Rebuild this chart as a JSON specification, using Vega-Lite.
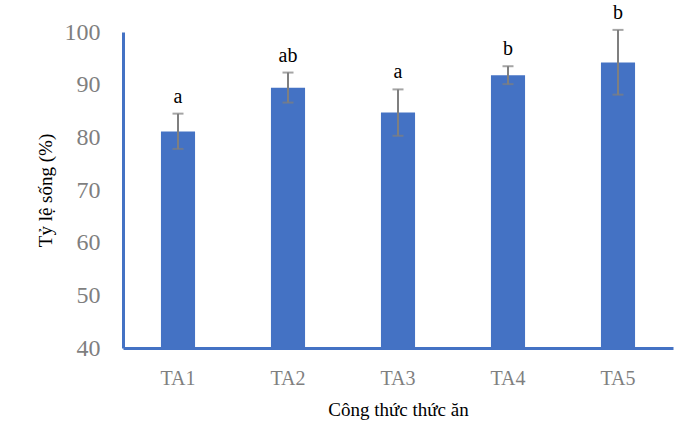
{
  "$schema": "https://vega.github.io/schema/vega-lite/v6.json",
  "autosize": "none",
  "width": 550,
  "height": 316,
  "padding": {"left": 123, "top": 32, "right": 6, "bottom": 88},
  "background": "white",
  "config": {
    "view": {"stroke": null},
    "font": "Liberation Serif",
    "axis": {"labelFont": "Liberation Serif", "titleFont": "Liberation Serif"},
    "axisY": {"labelFont": "Liberation Serif", "titleFont": "Liberation Serif"}
  },
  "data": {
    "values": [
      {"ct": "TA1", "mean": 81.1, "lower": 77.8, "upper": 84.5, "sig": "a"},
      {"ct": "TA2", "mean": 89.4, "lower": 86.6, "upper": 92.3, "sig": "ab"},
      {"ct": "TA3", "mean": 84.7, "lower": 80.3, "upper": 89.1, "sig": "a"},
      {"ct": "TA4", "mean": 91.8, "lower": 90.1, "upper": 93.5, "sig": "b"},
      {"ct": "TA5", "mean": 94.2, "lower": 88.1, "upper": 100.4, "sig": "b"}
    ]
  },
  "encoding": {
    "x": {
      "field": "ct",
      "type": "nominal",
      "sort": null,
      "scale": {"paddingInner": 0.69, "paddingOuter": 0.345},
      "axis": {
        "title": "Công thức thức ăn",
        "titleFontSize": 19,
        "titleFontWeight": "normal",
        "titleColor": "#000000",
        "titlePadding": 12,
        "labelAngle": 0,
        "labelFontSize": 20,
        "labelColor": "#7f7f7f",
        "labelPadding": 20,
        "ticks": false,
        "domainColor": "#4472C4",
        "domainWidth": 3,
        "grid": false,
        "zindex": 1
      }
    }
  },
  "layer": [
    {
      "mark": {"type": "bar", "color": "#4472C4", "clip": true},
      "encoding": {
        "y": {
          "field": "mean",
          "type": "quantitative",
          "scale": {"domain": [40, 100], "nice": false, "zero": false},
          "axis": {
            "title": "Tỷ lệ sống (%)",
            "titleFontSize": 19,
            "titleFontWeight": "normal",
            "titleColor": "#000000",
            "titlePadding": 9,
            "values": [40, 50, 60, 70, 80, 90, 100],
            "labelFontSize": 24,
            "labelColor": "#7f7f7f",
            "labelPadding": 23,
            "ticks": false,
            "grid": false,
            "domainColor": "#4472C4",
            "domainWidth": 3
          }
        }
      }
    },
    {
      "mark": {"type": "rule", "color": "#7f7f7f", "strokeWidth": 2, "clip": false},
      "encoding": {
        "y": {"field": "lower", "type": "quantitative"},
        "y2": {"field": "upper"}
      }
    },
    {
      "mark": {"type": "tick", "color": "#7f7f7f", "thickness": 2, "size": 11, "orient": "horizontal", "clip": false},
      "encoding": {
        "y": {"field": "upper", "type": "quantitative"}
      }
    },
    {
      "mark": {"type": "tick", "color": "#7f7f7f", "thickness": 2, "size": 11, "orient": "horizontal", "clip": false},
      "encoding": {
        "y": {"field": "lower", "type": "quantitative"}
      }
    },
    {
      "mark": {"type": "text", "baseline": "bottom", "dy": -7, "fontSize": 20, "font": "Liberation Serif", "color": "#000000", "clip": false},
      "encoding": {
        "y": {"field": "upper", "type": "quantitative"},
        "text": {"field": "sig"}
      }
    }
  ]
}
